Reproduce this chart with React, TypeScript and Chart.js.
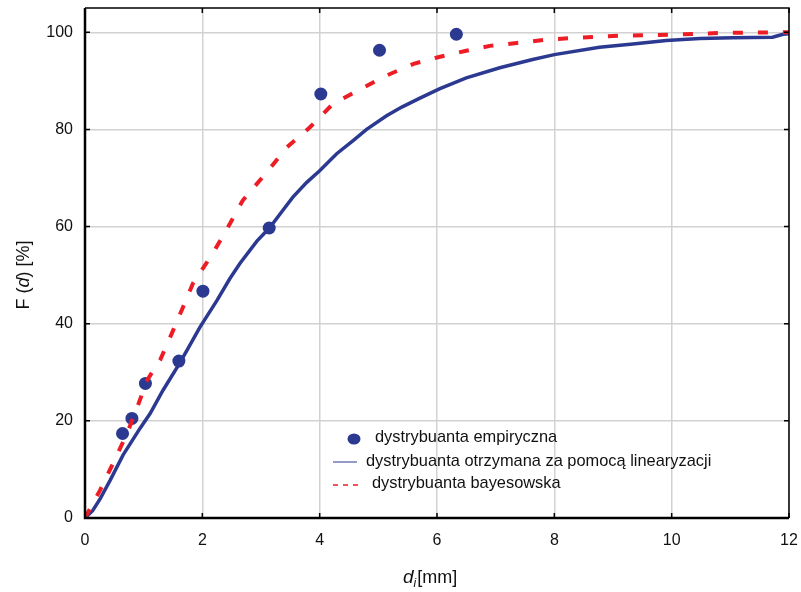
import React, { useEffect, useRef } from "react";
import { Chart, registerables } from "chart.js";
Chart.register(...registerables);

const empiricalX = [0.64, 0.80, 1.03, 1.60, 2.01, 3.14, 4.02, 5.02, 6.33];
const empiricalY = [17.4, 20.5, 27.7, 32.3, 46.7, 59.7, 87.3, 96.3, 99.6];

const linX = [0, 0.13, 0.26, 0.43, 0.65, 0.94, 1.11, 1.33, 1.62, 1.96, 2.25, 2.47, 2.64, 2.93, 3.15, 3.37, 3.54, 3.78, 4.0, 4.29, 4.57, 4.8, 5.14, 5.4, 5.7, 6.05, 6.5, 7.07, 7.63, 8.0, 8.77, 9.34, 9.91, 10.48, 11.04, 11.72, 11.9, 12];
const linY = [0, 1.5, 4.0, 7.8, 13.0, 18.5, 21.5, 26.3, 32.0, 39.3, 44.8, 49.3, 52.4, 57.0, 59.8, 63.3, 66.0, 69.1, 71.5, 75.0, 77.7, 80.0, 82.8, 84.6, 86.4, 88.4, 90.6, 92.7, 94.4, 95.4, 96.9, 97.6, 98.3, 98.7, 98.9, 99.0, 99.6, 99.7];

const bayX = [0, 0.26, 0.48, 0.72, 0.89, 1.06, 1.28, 1.48, 1.67, 1.84, 2.18, 2.47, 2.69, 3.1, 3.44, 3.83, 4.23, 4.68, 5.14, 5.6, 6.0, 6.5, 6.9, 7.36, 7.81, 8.27, 9.1, 10.0, 10.9, 12];
const bayY = [0, 5.8, 11.3, 17.5, 22.8, 28.4, 32.5, 38.0, 43.4, 48.3, 54.5, 60.6, 65.4, 71.2, 76.3, 80.4, 85.3, 88.2, 91.1, 93.5, 94.8, 96.2, 97.2, 97.8, 98.4, 98.8, 99.3, 99.5, 99.9, 100];

const legendLabels = [
  "dystrybuanta empiryczna",
  "dystrybuanta otrzymana za pomocą linearyzacji",
  "dystrybuanta bayesowska",
];
const yTitleParts = ["F (", "d", ") [%]"];
const xTitleParts = ["d", "i", "[mm]"];

const BLUE = "#2b3990";
const RED = "#ee1c25";
const FONT = "'Liberation Sans', Arial, sans-serif";

const zip = (xs: number[], ys: number[]) => xs.map((x, i) => ({ x, y: ys[i] }));

const decorPlugin = {
  id: "decor",
  afterDraw(chart: any) {
    const ctx = chart.ctx as CanvasRenderingContext2D;
    const { left, right, top, bottom } = chart.chartArea;
    const xs = chart.scales.x;
    const ys = chart.scales.y;
    ctx.save();
    ctx.strokeStyle = "#000";
    ctx.lineWidth = 1.5;
    ctx.beginPath();
    ctx.moveTo(left, top);
    ctx.lineTo(right, top);
    ctx.lineTo(right, bottom);
    ctx.stroke();
    ctx.lineWidth = 2.5;
    ctx.beginPath();
    ctx.moveTo(left, top);
    ctx.lineTo(left, bottom);
    ctx.lineTo(right, bottom);
    ctx.stroke();
    ctx.lineWidth = 1.5;
    ctx.beginPath();
    xs.ticks.forEach((t: any) => {
      const px = xs.getPixelForValue(t.value);
      ctx.moveTo(px, bottom);
      ctx.lineTo(px, bottom - 5);
      ctx.moveTo(px, top);
      ctx.lineTo(px, top + 5);
    });
    ys.ticks.forEach((t: any) => {
      const py = ys.getPixelForValue(t.value);
      ctx.moveTo(right, py);
      ctx.lineTo(right - 5, py);
      ctx.moveTo(left, py);
      ctx.lineTo(left + 5, py);
    });
    ctx.stroke();

    // legend
    ctx.fillStyle = "#111";
    ctx.font = `16.4px ${FONT}`;
    ctx.textBaseline = "middle";
    ctx.textAlign = "left";
    ctx.save();
    ctx.fillStyle = BLUE;
    ctx.beginPath();
    ctx.ellipse(354, 439, 6.5, 5.5, 0, 0, Math.PI * 2);
    ctx.fill();
    ctx.restore();
    ctx.fillText(legendLabels[0], 375, 437);
    ctx.save();
    ctx.strokeStyle = BLUE;
    ctx.lineWidth = 1;
    ctx.beginPath();
    ctx.moveTo(333, 462);
    ctx.lineTo(357, 462);
    ctx.stroke();
    ctx.restore();
    ctx.fillText(legendLabels[1], 366, 461);
    ctx.save();
    ctx.strokeStyle = RED;
    ctx.lineWidth = 1.5;
    ctx.setLineDash([5, 5]);
    ctx.beginPath();
    ctx.moveTo(333, 485);
    ctx.lineTo(359, 485);
    ctx.stroke();
    ctx.restore();
    ctx.fillText(legendLabels[2], 372, 483);

    // y title
    ctx.save();
    ctx.translate(24, 275);
    ctx.rotate(-Math.PI / 2);
    ctx.fillStyle = "#111";
    const fN = `18px ${FONT}`;
    const fI = `italic 18px ${FONT}`;
    const fonts = [fN, fI, fN];
    let total = 0;
    yTitleParts.forEach((p, i) => {
      ctx.font = fonts[i];
      total += ctx.measureText(p).width;
    });
    let cx = -total / 2;
    yTitleParts.forEach((p, i) => {
      ctx.font = fonts[i];
      ctx.fillText(p, cx, 0);
      cx += ctx.measureText(p).width;
    });
    ctx.restore();

    // x title
    ctx.save();
    ctx.fillStyle = "#111";
    ctx.textBaseline = "alphabetic";
    ctx.font = `italic 19px ${FONT}`;
    ctx.fillText(xTitleParts[0], 403, 583);
    let xx = 403 + ctx.measureText(xTitleParts[0]).width;
    ctx.font = `italic 12px ${FONT}`;
    ctx.fillText(xTitleParts[1], xx, 587);
    xx += ctx.measureText(xTitleParts[1]).width + 1;
    ctx.font = `18px ${FONT}`;
    ctx.fillText(xTitleParts[2], xx, 583);
    ctx.restore();

    ctx.restore();
  },
};

const zeroPad = (s: any) => {
  s.paddingTop = 0;
  s.paddingBottom = 0;
  s.paddingLeft = 0;
  s.paddingRight = 0;
};

export default function App() {
  const ref = useRef<HTMLCanvasElement | null>(null);
  useEffect(() => {
    document.body.style.margin = "0";
    const canvas = ref.current!;
    const chart = new Chart(canvas, {
      type: "scatter",
      data: {
        datasets: [
          {
            label: legendLabels[2],
            data: zip(bayX, bayY),
            showLine: true,
            borderColor: RED,
            borderWidth: 4,
            borderDash: [10, 15],
            pointRadius: 0,
            fill: false,
            order: 0,
          },
          {
            label: legendLabels[0],
            data: zip(empiricalX, empiricalY),
            showLine: false,
            backgroundColor: BLUE,
            borderColor: BLUE,
            pointRadius: 6.5,
            pointBorderWidth: 0,
            order: 1,
          },
          {
            label: legendLabels[1],
            data: zip(linX, linY),
            showLine: true,
            borderColor: BLUE,
            borderWidth: 3.5,
            pointRadius: 0,
            fill: false,
            order: 2,
          },
        ],
      },
      options: {
        responsive: false,
        animation: false,
        devicePixelRatio: 1,
        layout: { padding: { left: 0, right: 12, top: 8, bottom: 0 } },
        plugins: { legend: { display: false }, tooltip: { enabled: false } },
        scales: {
          x: {
            type: "linear",
            min: 0,
            max: 12,
            afterFit: (s: any) => {
              s.height = 74;
              zeroPad(s);
            },
            ticks: { stepSize: 2, color: "#111", font: { size: 16, family: FONT }, padding: 13 },
            grid: { color: "#d2d2d2", lineWidth: 1.5, drawTicks: false },
            border: { display: false },
          },
          y: {
            type: "linear",
            min: 0,
            max: 105,
            afterFit: (s: any) => {
              s.width = 85;
              zeroPad(s);
            },
            ticks: { stepSize: 20, includeBounds: false, color: "#111", font: { size: 16, family: FONT }, padding: 12 },
            grid: { color: "#d2d2d2", lineWidth: 1.5, drawTicks: false },
            border: { display: false },
          },
        },
      },
      plugins: [decorPlugin],
    } as any);
    return () => chart.destroy();
  }, []);
  return (
    <div style={{ width: 801, height: 592, background: "#fff" }}>
      <canvas ref={ref} width={801} height={592} />
    </div>
  );
}
